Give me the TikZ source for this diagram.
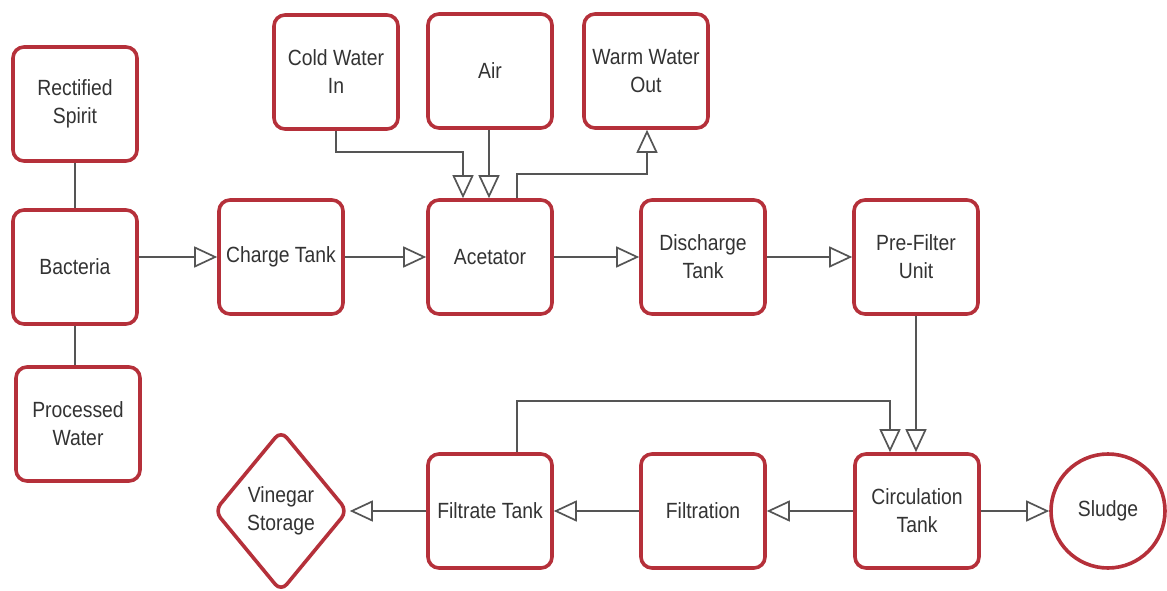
\documentclass[tikz,border=0pt]{standalone}
\usepackage{fontspec}
\setmainfont{Liberation Sans}[FakeStretch=0.88]
\usetikzlibrary{arrows.meta,shapes.geometric}
\definecolor{boxred}{HTML}{B5303A}
\definecolor{linegray}{HTML}{555555}
\definecolor{txtgray}{HTML}{333333}
\begin{document}
\begin{tikzpicture}[x=1pt,y=-1pt,
  proc/.style={draw=boxred, line width=3.6pt, fill=white, rounded corners=11pt,
    minimum width=124pt, minimum height=114pt, inner sep=2pt, align=center,
    text=txtgray, font=\fontsize{22}{28}\selectfont},
  dia/.style={draw=boxred, line width=3.6pt, fill=white, diamond, rounded corners=9pt,
    minimum width=134pt, minimum height=162pt, inner sep=0pt, align=center,
    text=txtgray, font=\fontsize{22}{28}\selectfont},
  circ/.style={draw=boxred, line width=3.6pt, fill=white, circle, minimum size=114pt,
    inner sep=0pt, align=center, text=txtgray, font=\fontsize{22}{28}\selectfont},
  conn/.style={draw=linegray, line width=2pt},
  arr/.style={conn, -{Triangle[open, length=23pt, width=21pt, line width=1.7pt]}}
]
\useasboundingbox (0,0) rectangle (1167,591);
\fill[white] (0,0) rectangle (1167,591);

\node[proc] (rect) at (75,104) {Rectified\\Spirit};
\node[proc] (bact) at (75,267) {Bacteria};
\node[proc] (proc) at (78,424) {Processed\\Water};
\node[proc] (charge) at (281,257) {Charge Tank};
\node[proc] (acet) at (490,257) {Acetator};
\node[proc] (disch) at (703,257) {Discharge\\Tank};
\node[proc] (pref) at (916,257) {Pre-Filter\\Unit};
\node[proc] (cold) at (336,72) {Cold Water\\In};
\node[proc] (air) at (490,71) {Air};
\node[proc] (warm) at (646,71) {Warm Water\\Out};
\node[proc] (circt) at (917,511) {Circulation\\Tank};
\node[proc] (filt) at (703,511) {Filtration};
\node[proc] (filtr) at (490,511) {Filtrate Tank};
\node[dia] (vin) at (281,511) {Vinegar\\Storage};
\node[circ] (sludge) at (1108,511) {Sludge};

\draw[conn] (rect) -- (bact);
\draw[conn] (bact) -- (proc.north -| bact);
\draw[arr] (bact.east |- charge) -- (charge);
\draw[arr] (charge) -- (acet);
\draw[arr] (acet) -- (disch);
\draw[arr] (disch) -- (pref);

\coordinate (c1) at (463,152);
\draw[arr] (cold.south) |- (c1) -- (c1 |- acet.north);
\draw[arr] (air.south -| 489,0) -- (acet.north -| 489,0);
\coordinate (w1) at (517,174);
\draw[arr] (acet.north -| w1) -- (w1) -| (warm.south -| 647,0);

\draw[arr] (pref.south) -- (pref.south |- circt.north);
\coordinate (f1) at (517,401);
\coordinate (f2) at (890,401);
\draw[arr] (filtr.north -| f1) -- (f1) -- (f2) -- (f2 |- circt.north);

\draw[arr] (circt) -- (filt);
\draw[arr] (filt) -- (filtr);
\draw[arr] (filtr) -- (vin);
\draw[arr] (circt) -- (sludge);
\end{tikzpicture}
\end{document}
